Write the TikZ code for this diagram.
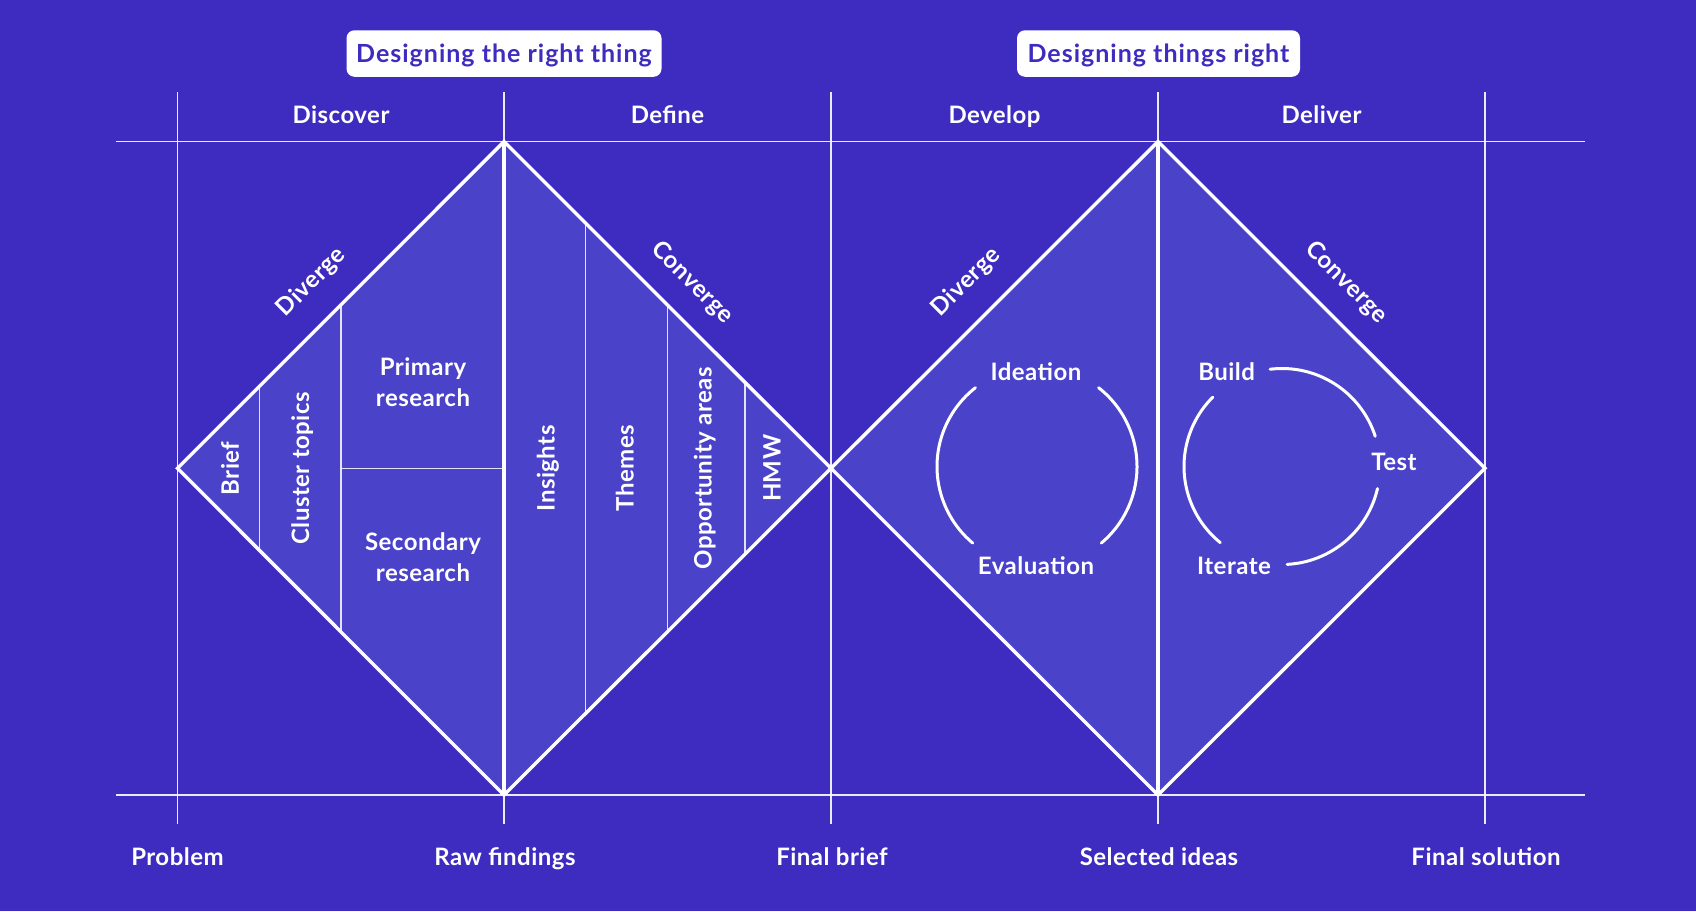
\documentclass[tikz,border=0pt]{standalone}
\usepackage{fontspec}
\setmainfont{Lato}
\newfontfamily\labelfont[LetterSpace=2]{Lato}
\newfontfamily\titlefont[LetterSpace=4]{Lato}
\definecolor{bgblue}{HTML}{3D2CBF}
\definecolor{diafill}{HTML}{4A42C8}
\tikzset{
  gridline/.style={draw=white, line width=1.3pt, opacity=0.9},
  partline/.style={draw=white, line width=1.3pt, opacity=0.85},
  edgeline/.style={draw=white, line width=3.4pt, line join=miter},
  loopline/.style={draw=white, line width=3pt, line cap=round},
  titlebox/.style={fill=white, rounded corners=8pt, text=bgblue,
                   font=\titlefont\bfseries\fontsize{25}{28}\selectfont,
                   text height=17.5pt, text depth=0pt,
                   minimum height=46.5pt, inner xsep=8pt, inner ysep=0pt},
  lbl/.style={text=white, font=\labelfont\bfseries\fontsize{24}{31}\selectfont,
              text height=17pt, text depth=0pt, inner sep=0pt},
  lbltwo/.style={text=white, font=\labelfont\bfseries\fontsize{24}{31}\selectfont,
                 inner sep=0pt, align=center},
}
\begin{document}
\begin{tikzpicture}[x=1pt,y=-1pt]
\fill[bgblue] (0,0) rectangle (1696,911);
\useasboundingbox (0,0) rectangle (1696,911);

% key points of the two diamonds
\coordinate (p1) at (177.5,468.3);
\coordinate (t1) at (504,141.6);
\coordinate (b1) at (504,795);
\coordinate (p2) at (831,468.3);
\coordinate (t2) at (1158,141.6);
\coordinate (b2) at (1158,795);
\coordinate (p3) at (1485,468.3);

% diamond fills
\fill[diafill] (p1) -- (t1) -- (p2) -- (b1) -- cycle;
\fill[diafill] (p2) -- (t2) -- (p3) -- (b2) -- cycle;

% grid
\coordinate (hl1) at (115.7,141.6); \coordinate (hr1) at (1584.6,141.6);
\coordinate (hl2) at (115.7,795);   \coordinate (hr2) at (1584.6,795);
\draw[gridline] (hl1) -- (hr1);
\draw[gridline] (hl2) -- (hr2);
\foreach \x/\n in {177.5/g1,504/g2,831/g3,1158/g4,1485/g5}{
  \coordinate (\n t) at (\x,92);
  \coordinate (\n b) at (\x,824);
  \draw[gridline] (\n t) -- (\n b);
}

% partitions of the first diamond
\foreach \x/\h/\n in {259.2/81.7/s1,341/163.5/s2,585.7/245.3/s3,667.4/163.6/s4,745/86/s5}{
  \coordinate (\n t) at (\x,468.3-\h);
  \coordinate (\n b) at (\x,468.3+\h);
  \draw[partline] (\n t) -- (\n b);
}
\coordinate (mid1) at (504,468.3);
\draw[partline] (s2t |- mid1) -- (mid1);

% diamond outlines and centre lines
\draw[edgeline] (p1) -- (t1) -- (p2) -- (b1) -- cycle;
\draw[edgeline] (p2) -- (t2) -- (p3) -- (b2) -- cycle;
\draw[edgeline] (t1) -- (b1);
\draw[edgeline] (t2) -- (b2);

% titles
\node[titlebox, minimum width=315pt] (ttl1) at (504,53.5) {Designing the right thing};
\node[titlebox, minimum width=283pt] (ttl2) at (1158.5,53.5) {Designing things right};

% phases
\node[lbl] (discover) at (341,115.3) {Discover};
\node[lbl] (define)   at (667.5,115.3) {Define};
\node[lbl] (develop)  at (994.5,115.3) {Develop};
\node[lbl] (deliver)  at (1321.5,115.3) {Deliver};

% milestones
\node[lbl] (problem)  at (177.5,857) {Problem};
\node[lbl] (raw)      at (505,857) {Raw findings};
\node[lbl] (brief)    at (832,857) {Final brief};
\node[lbl] (selected) at (1159,857) {Selected ideas};
\node[lbl] (solution) at (1486,857) {Final solution};

% diverge / converge
\node[lbl, rotate=45]  (div1) at (310.4,281.2) {Diverge};
\node[lbl, rotate=-45] (con1) at (693.3,281.2) {Converge};
\node[lbl, rotate=45]  (div2) at (964.8,281.2) {Diverge};
\node[lbl, rotate=-45] (con2) at (1347.7,281.2) {Converge};

% first diamond contents
\node[lbl, rotate=90] (brieflbl) at (230.4,468.3) {Brief};
\node[lbl, rotate=90] (cluster)  at (300.7,468.3) {Cluster topics};
\node[lbltwo] (primary)   at (423,382) {Primary\\research};
\node[lbltwo] (secondary) at (423,557) {Secondary\\research};
\node[lbl, rotate=90] (insights) at (546,468.3) {Insights};
\node[lbl, rotate=90] (themes)   at (625,468.3) {Themes};
\node[lbl, rotate=90] (opp)      at (703,468.3) {Opportunity areas};
\node[lbl, rotate=90] (hmw)      at (772,468.3) {HMW};

% second diamond: loops
\coordinate (c1) at (1037,466.5);
\coordinate (c2) at (1282,466.5);
\draw[loopline] ([shift={(-128:100)}]c1) arc[start angle=-128, end angle=-230, radius=100];
\draw[loopline] ([shift={(-52:100)}]c1) arc[start angle=-52, end angle=50, radius=100];
\draw[loopline] ([shift={(-135:98)}]c2) arc[start angle=-135, end angle=-231, radius=98];
\draw[loopline] ([shift={(-97:98)}]c2) arc[start angle=-97, end angle=-18, radius=98];
\draw[loopline] ([shift={(13:98)}]c2) arc[start angle=13, end angle=87, radius=98];

\node[lbl] (ideation)   at (1036,371.5) {Ideation};
\node[lbl] (evaluation) at (1036,566.2) {Evaluation};
\node[lbl] (build)      at (1226.6,371.5) {Build};
\node[lbl] (test)       at (1394,461.5) {Test};
\node[lbl] (iterate)    at (1234,566.2) {Iterate};
\end{tikzpicture}
\end{document}
